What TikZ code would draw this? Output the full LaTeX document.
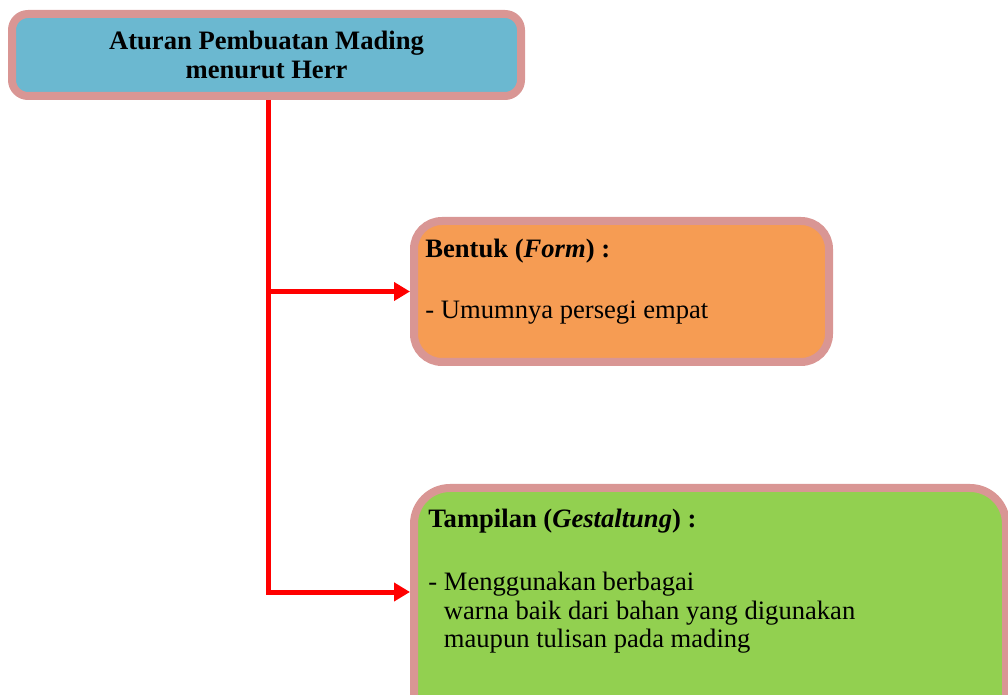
\documentclass[tikz,border=0pt]{standalone}
\usepackage{fontspec}
\setmainfont{Liberation Serif}
\usetikzlibrary{arrows.meta, positioning, calc}
\definecolor{madingpink}{RGB}{217,150,148}
\definecolor{madingblue}{RGB}{107,184,208}
\definecolor{madingorange}{RGB}{246,156,83}
\definecolor{madinggreen}{RGB}{146,208,80}
\definecolor{madingred}{RGB}{255,0,0}

\begin{document}
\begin{tikzpicture}[x=0.5pt, y=-0.5pt,
    box/.style = {draw=madingpink, line width=4pt, rounded corners=8pt, inner sep=0pt},
    txt/.style = {anchor=north west, inner sep=0pt, align=left, font=\fontsize{13.3}{14.25}\selectfont},
    link/.style = {draw=madingred, line width=2.5pt, -{Triangle[length=8pt, width=9pt]}}]
    \useasboundingbox (0,0) rectangle (1008,695);
    \clip (0,0) rectangle (1008,695);
    \node[box, fill=madingblue, minimum width=254.5pt, minimum height=41pt, align=center,
          font=\bfseries\fontsize{13.3}{14.5}\selectfont] (title) at (266.5,55)
          {Aturan Pembuatan Mading\\menurut Herr};
    \node[box, rounded corners=14pt, fill=madingorange, minimum width=207.5pt, minimum height=70.5pt] (form) at (621.5,291.5) {};
    \node[box, rounded corners=18pt, fill=madinggreen, minimum width=296pt, minimum height=122pt] (look) at (710,610) {};
    \node[txt] (formtxt) at ([shift={(15,22)}]form.north west)
          {\textbf{Bentuk (\textit{Form}) :}\\[16.25pt]- Umumnya persegi empat};
    \node[txt] (looktxt) at ([shift={(18,25)}]look.north west)
          {\textbf{Tampilan (\textit{Gestaltung}) :}\\[17.25pt]- Menggunakan berbagai\\
           \hphantom{-\ }warna baik dari bahan yang digunakan\\
           \hphantom{-\ }maupun tulisan pada mading};
    \coordinate (trunk) at (268,592);
    \draw[link, -] (title.south -| trunk) -- (trunk |- form.west);
    \draw[link] (trunk |- form.west) -- (form.west);
    \draw[link] (trunk |- form.west) -- (trunk) -- (trunk -| look.west);
\end{tikzpicture}
\end{document}
